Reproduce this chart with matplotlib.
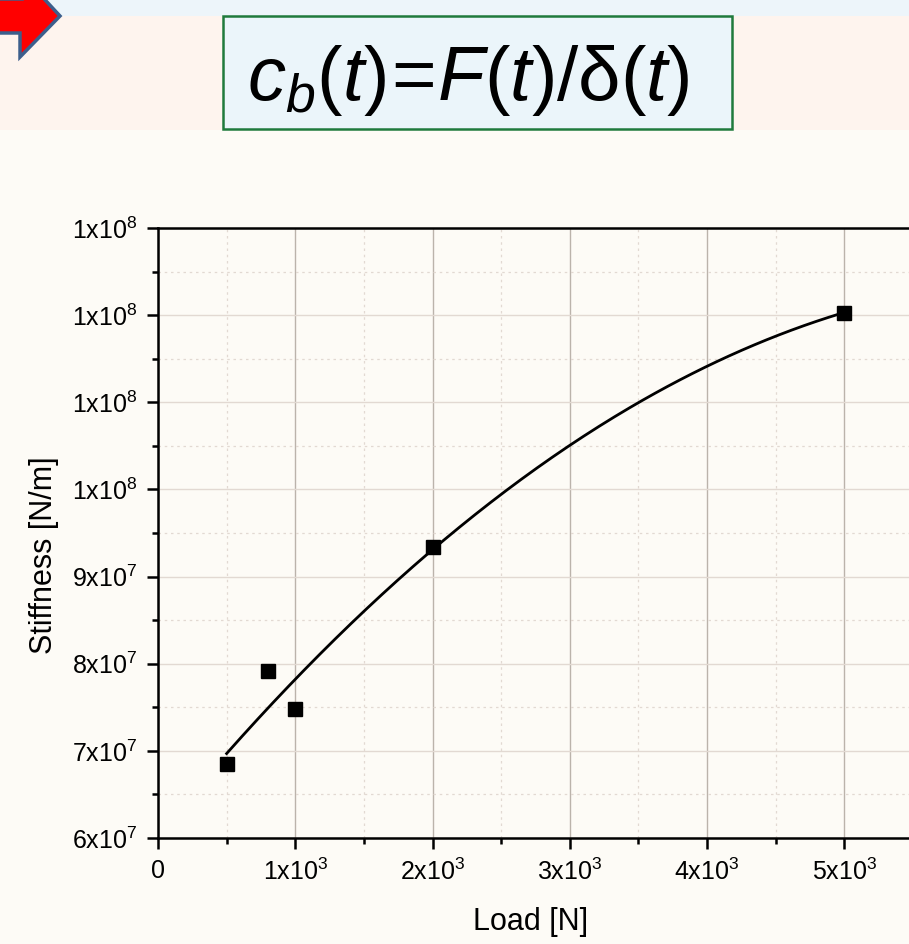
import numpy as np
import matplotlib

matplotlib.use("Agg")
import matplotlib.pyplot as plt
from matplotlib.patches import Rectangle, Polygon

plt.rcParams["font.family"] = ["Liberation Sans", "DejaVu Sans"]
plt.rcParams["mathtext.fontset"] = "custom"
plt.rcParams["mathtext.rm"] = "Liberation Sans"
plt.rcParams["mathtext.it"] = "Liberation Sans:italic"
plt.rcParams["mathtext.sf"] = "Liberation Sans"

# measured points
load = [500, 800, 1000, 2000, 5000]
stiffness = [6.85e7, 7.92e7, 7.48e7, 9.34e7, 1.203e8]

x_ticks = [0, 1000, 2000, 3000, 4000, 5000]
x_labels = ["0", r"$\mathregular{1x10^{3}}$", r"$\mathregular{2x10^{3}}$",
            r"$\mathregular{3x10^{3}}$", r"$\mathregular{4x10^{3}}$", r"$\mathregular{5x10^{3}}$"]
y_ticks = [6e7, 7e7, 8e7, 9e7, 1e8, 1.1e8, 1.2e8, 1.3e8]
y_labels = [r"$\mathregular{6x10^{7}}$", r"$\mathregular{7x10^{7}}$", r"$\mathregular{8x10^{7}}$",
            r"$\mathregular{9x10^{7}}$", r"$\mathregular{1x10^{8}}$", r"$\mathregular{1x10^{8}}$",
            r"$\mathregular{1x10^{8}}$", r"$\mathregular{1x10^{8}}$"]

BG = "#fdfbf6"
W, H = 909, 944

fig = plt.figure(figsize=(W / 100, H / 100), dpi=100, facecolor=BG)


def px(x, y):
    return x / W, 1 - y / H


# header bands
fig.patches.append(Rectangle(px(0, 130), 1, 115 / H, transform=fig.transFigure,
                             facecolor="#fef4ee", edgecolor="none", zorder=0))
fig.patches.append(Rectangle(px(0, 16), 1, 16 / H, transform=fig.transFigure,
                             facecolor="#edf5fa", edgecolor="none", zorder=0))
# arrow
arrow = [(-5, -1), (22, -1), (22, -25), (60, 16), (20, 57), (20, 33), (-5, 33)]
fig.patches.append(Polygon([px(a, b) for a, b in arrow], closed=True, transform=fig.transFigure,
                           facecolor="#ff0000", edgecolor="#3d5f8c", linewidth=2.5, zorder=1))
# formula box
fig.patches.append(Rectangle(px(223, 129), (732 - 223) / W, (129 - 16) / H, transform=fig.transFigure,
                             facecolor="#ebf5fa", edgecolor="#1f7a3c", linewidth=1.8, zorder=1))
fig.text(468 / W, 1 - 80 / H, r"$c_b(t)\!=\!F(t)/\mathrm{\delta}(t)$", fontsize=55,
         ha="center", va="center", color="black")

ax = fig.add_axes([158 / W, (H - 838) / H, (913 - 158) / W, (838 - 228) / H])
ax.set_facecolor(BG)

ax.set_xlim(0, 5500)
ax.set_ylim(6e7, 1.3e8)

# quadratic fit through the points
coef = np.polyfit(load, stiffness, 2)
xf = np.linspace(min(load), max(load), 200)
ax.plot(xf, np.polyval(coef, xf), color="black", linewidth=2.0, zorder=3)
ax.plot(load, stiffness, "s", color="black", markersize=10, zorder=4)

ax.set_xticks(x_ticks)
ax.set_xticklabels(x_labels)
ax.set_xticks(np.arange(500, 5500, 1000), minor=True)
ax.set_yticks(y_ticks)
ax.set_yticklabels(y_labels)
ax.set_yticks(np.arange(6.5e7, 1.3e8, 1e7), minor=True)

ax.tick_params(which="major", direction="out", length=8, width=1.8, labelsize=18, pad=7)
ax.tick_params(which="minor", direction="out", length=4.5, width=1.8)
ax.tick_params(top=False, right=False)

ax.xaxis.grid(True, which="major", color="#bbb3ab", linewidth=1.0)
ax.yaxis.grid(True, which="major", color="#e2d9d2", linewidth=1.0)
ax.grid(True, which="minor", color="#e2d9d2", linewidth=0.9, linestyle=(0, (2, 3)))
ax.set_axisbelow(True)

for s in ["left", "bottom", "top"]:
    ax.spines[s].set_linewidth(1.8)
ax.spines["right"].set_visible(False)

ax.set_xlabel("Load [N]", fontsize=22)
ax.set_ylabel("Stiffness [N/m]", fontsize=22)
ax.xaxis.set_label_coords(0.493, -0.113)
ax.yaxis.set_label_coords(-0.1315, 0.464)

fig.savefig("out.png", dpi=100, facecolor=BG)
